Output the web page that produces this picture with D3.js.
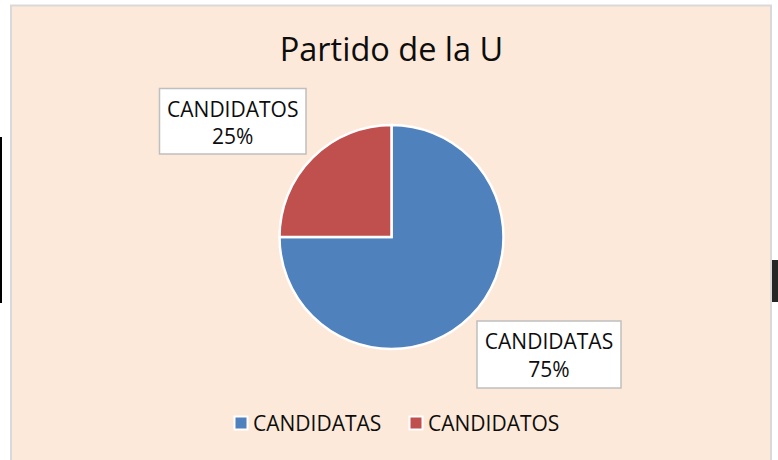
<!DOCTYPE html>
<html lang="es">
<head>
<meta charset="UTF-8">
<title>Partido de la U</title>
<script src="https://cdn.jsdelivr.net/npm/d3@7"></script>
<style>
body {
    margin: 0;
    padding: 0;
    background: #ffffff;
    font-family: 'Open Sans', sans-serif;
}
svg { display: block; }
</style>
</head>
<body>
<div id="chart"></div>
<script>
// Data
const title = "Partido de la U";
const categories = ["CANDIDATAS", "CANDIDATOS"];
const values = [75, 25];
const colors = ["#4F81BD", "#C0504D"];

const width = 778, height = 460;
const cx = 391.5, cy = 237, radius = 112;

const svg = d3.select("#chart").append("svg")
    .attr("width", width).attr("height", height);

// edge artifacts from the original screenshot
svg.append("rect").attr("x", 0).attr("y", 137).attr("width", 2).attr("height", 166).attr("fill", "#000");
svg.append("rect").attr("x", 772).attr("y", 260).attr("width", 6).attr("height", 42).attr("fill", "#262626");

// chart area
svg.append("rect")
    .attr("x", 11).attr("y", 5.5)
    .attr("width", 760).attr("height", 470)
    .attr("fill", "#FDE9D9")
    .attr("stroke", "#D9D9D9")
    .attr("stroke-width", 2);

// Title
svg.append("text")
    .attr("x", cx).attr("y", 61)
    .attr("text-anchor", "middle")
    .attr("font-size", 32.5)
    .attr("fill", "#0d0d0d")
    .text(title);

// Pie
const pie = d3.pie().sort(null).value(d => d);
const arc = d3.arc().innerRadius(0).outerRadius(radius);
const total = d3.sum(values);

svg.append("g")
    .attr("transform", `translate(${cx},${cy})`)
    .selectAll("path")
    .data(pie(values))
    .enter().append("path")
    .attr("d", arc)
    .attr("fill", (d, i) => colors[i])
    .attr("stroke", "#fff")
    .attr("stroke-width", 2.5)
    .attr("stroke-linejoin", "miter");

// Data labels (boxes)
const labelBoxes = [
    { x: 477, y: 321, w: 144, h: 67 },   // CANDIDATAS
    { x: 159.5, y: 88.5, w: 146.5, h: 65.5 } // CANDIDATOS
];
const fmt = d3.format(".0%");

const labels = svg.append("g").selectAll("g")
    .data(categories)
    .enter().append("g");

labels.append("rect")
    .attr("x", (d, i) => labelBoxes[i].x)
    .attr("y", (d, i) => labelBoxes[i].y)
    .attr("width", (d, i) => labelBoxes[i].w)
    .attr("height", (d, i) => labelBoxes[i].h)
    .attr("fill", "#fff")
    .attr("stroke", "#BFBFBF")
    .attr("stroke-width", 1.5);

labels.append("text")
    .attr("x", (d, i) => labelBoxes[i].x + labelBoxes[i].w / 2)
    .attr("y", (d, i) => labelBoxes[i].y + 28.2)
    .attr("text-anchor", "middle")
    .attr("font-size", 21)
    .attr("fill", "#0d0d0d")
    .text(d => d);

labels.append("text")
    .attr("x", (d, i) => labelBoxes[i].x + labelBoxes[i].w / 2)
    .attr("y", (d, i) => labelBoxes[i].y + 55.5)
    .attr("text-anchor", "middle")
    .attr("font-size", 21)
    .attr("fill", "#0d0d0d")
    .text((d, i) => fmt(values[i] / total));

// Legend
const legendX = [233.5, 408.5];
const legend = svg.append("g").selectAll("g")
    .data(categories)
    .enter().append("g")
    .attr("transform", (d, i) => `translate(${legendX[i]},415.5)`);

legend.append("rect")
    .attr("x", 1).attr("y", 1)
    .attr("width", 13).attr("height", 13)
    .attr("fill", (d, i) => colors[i])
    .attr("stroke", "#fff")
    .attr("stroke-width", 2);

legend.append("text")
    .attr("x", 19.5).attr("y", 15.3)
    .attr("font-size", 21)
    .attr("fill", "#0d0d0d")
    .text(d => d);
</script>
</body>
</html>
